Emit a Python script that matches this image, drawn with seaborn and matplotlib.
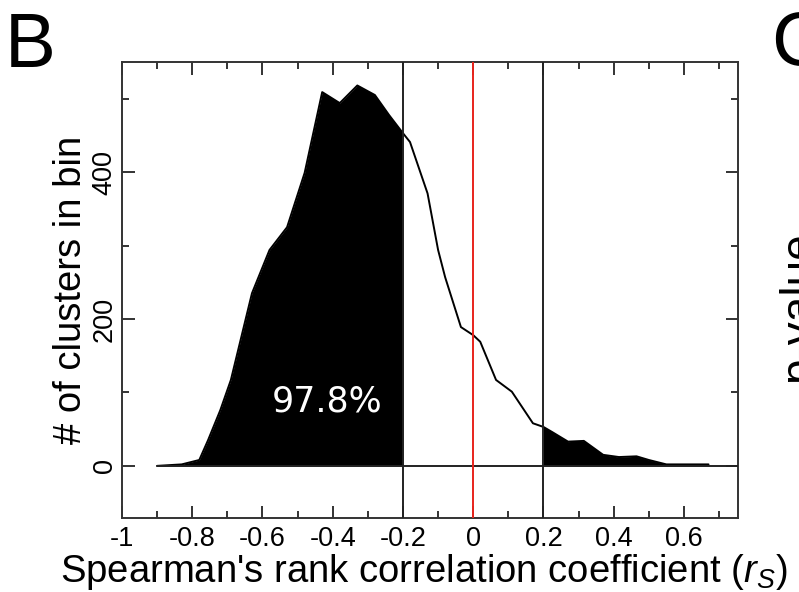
import numpy as np
import pandas as pd
import matplotlib
matplotlib.use("Agg")
import matplotlib.pyplot as plt
import seaborn as sns
from matplotlib.ticker import MultipleLocator, FixedLocator

# Histogram of Spearman correlation coefficients (bin centre -> count)
rs_values = [-0.90, -0.83, -0.78, -0.755, -0.72, -0.69, -0.63, -0.58, -0.53,
             -0.48, -0.43, -0.38, -0.33, -0.28, -0.24, -0.20, -0.18, -0.13,
             -0.10, -0.08, -0.035, 0.0, 0.02, 0.065, 0.11, 0.17, 0.20, 0.225,
             0.27, 0.315, 0.37, 0.415, 0.465, 0.50, 0.55, 0.67]
cluster_counts = [0, 2, 8, 35, 76, 117, 235, 294, 325, 399, 509, 494, 518,
                  505, 478, 453, 441, 371, 294, 257, 189, 178, 169, 117, 101,
                  58, 53, 46, 33, 34, 15, 12, 13, 8, 2, 2]

threshold_lo = -0.2
threshold_hi = 0.2
fraction_label = "97.8%"

x_tick_values = [-1, -0.8, -0.6, -0.4, -0.2, 0, 0.2, 0.4, 0.6]
x_tick_labels = ["-1", "-0.8", "-0.6", "-0.4", "-0.2", "0", "0.2", "0.4", "0.6"]
y_tick_values = [0, 200, 400]
y_tick_labels = ["0", "200", "400"]

df = pd.DataFrame({"rs": rs_values, "count": cluster_counts})

sns.set_theme(style="ticks")
plt.rcParams["font.family"] = ["Liberation Sans", "DejaVu Sans"]
plt.rcParams["mathtext.fontset"] = "custom"
plt.rcParams["mathtext.rm"] = "Liberation Sans"
plt.rcParams["mathtext.it"] = "Liberation Sans:italic"

fig = plt.figure(figsize=(7.99, 5.92), dpi=100)
ax = fig.add_axes([0.1527, 0.125, 0.771, 0.7703])

lw = 1.4

# shaded tails beyond the thresholds
left_tail = df[df["rs"] <= threshold_lo + 1e-9]
right_tail = df[df["rs"] >= threshold_hi - 1e-9]
for tail in (left_tail, right_tail):
    ax.fill_between(tail["rs"], 0, tail["count"], color="black",
                    linewidth=0, zorder=2)

sns.lineplot(data=df, x="rs", y="count", color="black", linewidth=lw,
             ax=ax, zorder=3)

# baseline and threshold markers
ax.plot([rs_values[0], 0.754], [0, 0], color="#222222", linewidth=lw, zorder=3)
for xv in (threshold_lo, threshold_hi):
    ax.axvline(xv, color="#222222", linewidth=lw, zorder=3)
ax.axvline(0, color="#e8241c", linewidth=lw, zorder=4)

ax.text(-0.417, 87, fraction_label, color="white", fontsize=25,
        family="DejaVu Sans", ha="center", va="center", zorder=5)

ax.set_xlim(-1, 0.754)
ax.set_ylim(-71, 550)

ax.xaxis.set_major_locator(FixedLocator(x_tick_values))
ax.set_xticklabels(x_tick_labels)
ax.xaxis.set_minor_locator(MultipleLocator(0.1))
ax.yaxis.set_major_locator(FixedLocator(y_tick_values))
ax.set_yticklabels(y_tick_labels, rotation=90, va="center")
ax.yaxis.set_minor_locator(MultipleLocator(100))

ax.tick_params(which="both", direction="in", top=True, right=True,
               color="#333333", width=lw)
ax.tick_params(which="major", length=9, labelsize=19.5, labelcolor="black")
ax.tick_params(axis="x", which="major", pad=6)
ax.tick_params(axis="y", which="major", pad=3)
ax.tick_params(which="minor", length=5)

for spine in ax.spines.values():
    spine.set_visible(True)
    spine.set_linewidth(lw)
    spine.set_color("#333333")

ax.set_xlabel("Spearman's rank correlation coefficient ($r_S$)",
              fontsize=27.5, labelpad=-2, color="black")
ax.xaxis.set_label_coords(0.489, -0.075)
ax.xaxis.label.set_va("top")
ax.set_ylabel("# of clusters in bin", fontsize=27.5, labelpad=2,
              color="black")

# panel letters
fig.text(0.006, 0.887, "B", fontsize=55, ha="left", va="baseline",
         color="black")
fig.text(0.965, 0.89, "C", fontsize=55, ha="left", va="baseline",
         color="black")
fig.text(0.972, 0.482, "p-value", fontsize=33, rotation=90, ha="left",
         va="center", color="black")

fig.savefig("out.png", dpi=100, facecolor="white")
